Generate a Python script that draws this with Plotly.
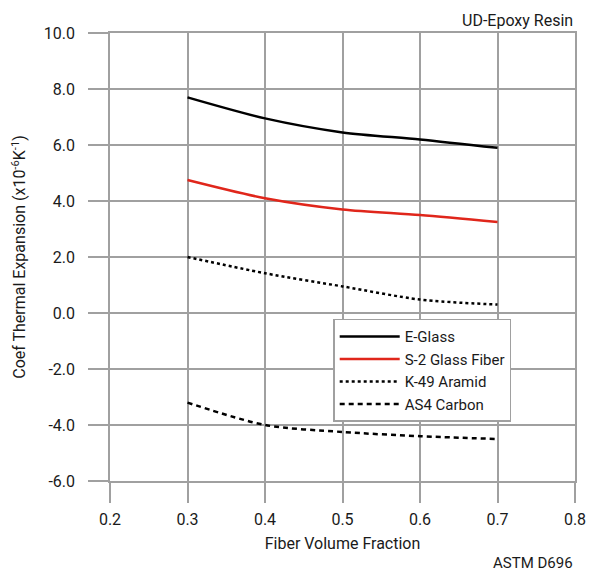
import plotly.graph_objects as go

# Fiber volume fraction and coefficient of thermal expansion (x10^-6 /K)
fiber_fraction = [0.3, 0.4, 0.5, 0.6, 0.7]
e_glass = [7.7, 6.95, 6.45, 6.2, 5.9]
s2_glass = [4.75, 4.1, 3.7, 3.5, 3.25]
k49_aramid = [2.0, 1.42, 0.95, 0.48, 0.3]
as4_carbon = [-3.2, -4.0, -4.25, -4.4, -4.5]

x_ticks = [0.2, 0.3, 0.4, 0.5, 0.6, 0.7, 0.8]
y_ticks = [-6, -4, -2, 0, 2, 4, 6, 8, 10]
y_tick_text = ["-6.0", "-4.0", "-2.0", "0.0", "2.0", "4.0", "6.0", "8.0", "10.0"]

FONT = "Roboto, sans-serif"
TEXT = "#1a1a1a"
GRID = "#a0a0a0"

series = [
    ("E-Glass", e_glass, "#000000", "solid"),
    ("S-2 Glass Fiber", s2_glass, "#e0261b", "solid"),
    ("K-49 Aramid", k49_aramid, "#000000", "dot"),
    ("AS4 Carbon", as4_carbon, "#000000", "5px,4px"),
]

fig = go.Figure()
for name, values, color, dash in series:
    fig.add_trace(go.Scatter(
        x=fiber_fraction, y=values, name=name, mode="lines",
        line=dict(color=color, width=2.5, dash=dash, shape="spline", smoothing=0.8),
    ))

fig.update_layout(
    width=598, height=573,
    margin=dict(l=110, r=23, t=33, b=92),
    paper_bgcolor="white", plot_bgcolor="white",
    font=dict(family=FONT, size=16, color=TEXT),
    showlegend=True,
    legend=dict(
        x=0.48, y=0.362, xanchor="left", yanchor="top",
        bgcolor="white", bordercolor="#a0a0a0", borderwidth=1.5,
        font=dict(family=FONT, size=15, color=TEXT),
        tracegroupgap=0, itemwidth=60,
    ),
    annotations=[
        dict(text="UD-Epoxy Resin", xref="paper", yref="paper", x=1.0, y=1.0,
             xanchor="right", yanchor="bottom", yshift=1, showarrow=False,
             font=dict(family=FONT, size=16, color=TEXT)),
        dict(text="ASTM D696", xref="paper", yref="paper", x=1.0, y=0,
             xanchor="right", yanchor="top", yshift=-71, showarrow=False,
             font=dict(family=FONT, size=15, color=TEXT)),
    ],
)

fig.update_xaxes(
    range=[0.2, 0.8], tickvals=x_ticks, ticktext=[f"{v:.1f}" for v in x_ticks],
    showgrid=True, gridcolor=GRID, gridwidth=1.5,
    showline=True, linecolor=GRID, linewidth=1.5, mirror=True,
    ticks="outside", ticklen=20, tickcolor=GRID, tickwidth=1.5,
    ticklabelstandoff=3,
    zeroline=False,
    title=dict(text="Fiber Volume Fraction", standoff=10,
               font=dict(family=FONT, size=16)),
)
fig.update_yaxes(
    range=[-6, 10], tickvals=y_ticks, ticktext=y_tick_text,
    showgrid=True, gridcolor=GRID, gridwidth=1.5,
    showline=True, linecolor=GRID, linewidth=1.5, mirror=True,
    ticks="outside", ticklen=20, tickcolor=GRID, tickwidth=1.5,
    ticklabelstandoff=10,
    zeroline=False,
    title=dict(text="Coef Thermal Expansion (x10<sup>-6</sup>K<sup>-1</sup>)", standoff=14,
               font=dict(family=FONT, size=16)),
)

fig.write_html("out.html")
